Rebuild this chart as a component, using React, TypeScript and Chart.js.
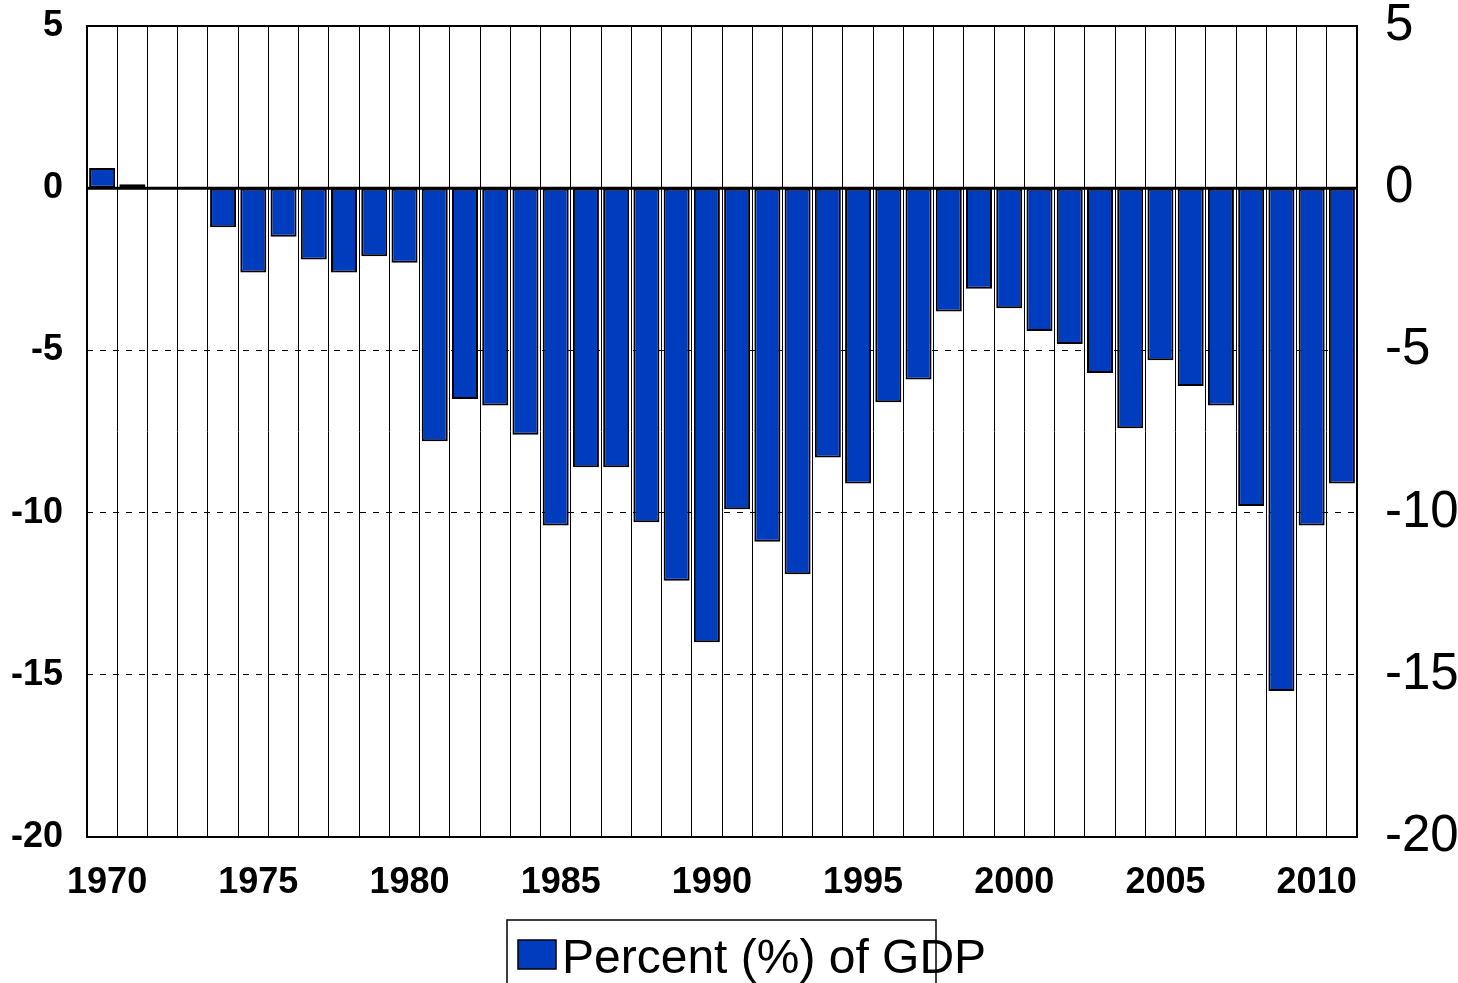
import React, { useEffect, useRef } from "react";
import { Chart, registerables } from "chart.js";

Chart.register(...registerables);

const years = [
  "1970", "1971", "1972", "1973", "1974", "1975", "1976", "1977", "1978", "1979",
  "1980", "1981", "1982", "1983", "1984", "1985", "1986", "1987", "1988", "1989",
  "1990", "1991", "1992", "1993", "1994", "1995", "1996", "1997", "1998", "1999",
  "2000", "2001", "2002", "2003", "2004", "2005", "2006", "2007", "2008", "2009",
  "2010", "2011",
];

const percentOfGdp = [
  0.62, 0.12, 0, 0, -1.2, -2.6, -1.5, -2.2, -2.6, -2.1,
  -2.3, -7.8, -6.5, -6.7, -7.6, -10.4, -8.6, -8.6, -10.3, -12.1,
  -14.0, -9.9, -10.9, -11.9, -8.3, -9.1, -6.6, -5.9, -3.8, -3.1,
  -3.7, -4.4, -4.8, -5.7, -7.4, -5.3, -6.1, -6.7, -9.8, -15.5,
  -10.4, -9.1,
];

const xTickLabels = ["1970", "1975", "1980", "1985", "1990", "1995", "2000", "2005", "2010"];
const yTicks = [5, 0, -5, -10, -15, -20];
const seriesLabel = "Percent (%) of GDP";

const FONT = '"Liberation Sans", Arial, Helvetica, sans-serif';
const BAR_BLUE = "#003CBE";
const CANVAS_W = 1560;
const CANVAS_H = 983;

export default function App() {
  const ref = useRef<HTMLCanvasElement | null>(null);

  useEffect(() => {
    const canvas = ref.current;
    if (!canvas) return;

    const framePlugin = {
      id: "frameAndZero",
      afterDatasetsDraw(chart: any) {
        const { ctx, chartArea } = chart;
        const y = chart.scales.y;
        ctx.save();
        ctx.strokeStyle = "#000";
        ctx.lineWidth = 3;
        const y0 = y.getPixelForValue(0);
        ctx.beginPath();
        ctx.moveTo(chartArea.left, y0);
        ctx.lineTo(chartArea.right, y0);
        ctx.stroke();
        ctx.lineWidth = 2;
        ctx.strokeRect(chartArea.left, chartArea.top, chartArea.right - chartArea.left, chartArea.bottom - chartArea.top);
        ctx.restore();
      },
    };

    const legendPlugin = {
      id: "boxLegend",
      afterDraw(chart: any) {
        const { ctx } = chart;
        const ds = chart.data.datasets[0];
        ctx.save();
        ctx.strokeStyle = "#000";
        ctx.lineWidth = 1.5;
        ctx.strokeRect(507, 920, 429, 90);
        ctx.fillStyle = ds.backgroundColor;
        ctx.fillRect(518, 940, 38, 29);
        ctx.lineWidth = 1.5;
        ctx.strokeRect(518, 940, 38, 29);
        ctx.fillStyle = "#000";
        ctx.font = `48px ${FONT}`;
        ctx.textAlign = "left";
        ctx.textBaseline = "alphabetic";
        ctx.fillText(ds.label, 562, 973);
        ctx.restore();
      },
    };

    const chart = new Chart(canvas, {
      type: "bar",
      data: {
        labels: years,
        datasets: [
          {
            label: seriesLabel,
            data: percentOfGdp,
            backgroundColor: BAR_BLUE,
            borderColor: "#000",
            borderWidth: 2,
            borderSkipped: false,
            barPercentage: 0.86,
            categoryPercentage: 1,
            yAxisID: "y",
          },
        ],
      },
      options: {
        animation: false,
        responsive: false,
        devicePixelRatio: 1,
        layout: { padding: { top: 26, left: 0, right: 0, bottom: 0 } },
        plugins: {
          legend: { display: false },
          tooltip: { enabled: false },
        },
        scales: {
          x: {
            type: "category",
            offset: true,
            grid: { offset: true, color: "#000", lineWidth: 1, drawTicks: false },
            border: { display: false },
            ticks: {
              autoSkip: false,
              maxRotation: 0,
              minRotation: 0,
              padding: 24,
              labelOffset: 5,
              color: "#000",
              font: { family: FONT, size: 36, weight: "bold" },
              callback: function (this: any, value: any) {
                const lab = this.getLabelForValue(value);
                return xTickLabels.includes(lab) ? lab : "";
              },
            },
            afterFit: (s: any) => {
              s.height = 146;
              s.paddingLeft = 0;
              s.paddingRight = 0;
            },
          },
          y: {
            position: "left",
            min: -20,
            max: 5,
            grid: {
              drawTicks: false,
              lineWidth: 1,
              color: (ctx: any) => {
                const v = ctx.tick ? ctx.tick.value : null;
                return v === 5 || v === 0 || v === -20 ? "rgba(0,0,0,0)" : "#000";
              },
            },
            border: { display: false, dash: [6, 7] },
            afterBuildTicks: (s: any) => {
              s.ticks = yTicks.map((v) => ({ value: v }));
            },
            ticks: {
              padding: 24,
              color: "#000",
              font: { family: FONT, size: 36, weight: "bold", lineHeight: 1 },
            },
            afterFit: (s: any) => {
              s.width = 87;
              s.paddingTop = 0;
              s.paddingBottom = 0;
            },
          },
          y1: {
            position: "right",
            min: -20,
            max: 5,
            grid: { display: false, drawTicks: false },
            border: { display: false },
            afterBuildTicks: (s: any) => {
              s.ticks = yTicks.map((v) => ({ value: v }));
            },
            ticks: {
              padding: 28,
              color: "#000",
              font: { family: FONT, size: 51, weight: "normal", lineHeight: 1 },
            },
            afterFit: (s: any) => {
              s.width = CANVAS_W - 1357;
              s.paddingTop = 0;
              s.paddingBottom = 0;
            },
          },
        },
      } as any,
      plugins: [framePlugin, legendPlugin],
    });

    return () => chart.destroy();
  }, []);

  return (
    <div
      style={{
        position: "fixed",
        left: 0,
        top: 0,
        width: 1458,
        height: 983,
        overflow: "hidden",
        background: "#fff",
      }}
    >
      <canvas ref={ref} width={CANVAS_W} height={CANVAS_H} style={{ display: "block" }} />
    </div>
  );
}
